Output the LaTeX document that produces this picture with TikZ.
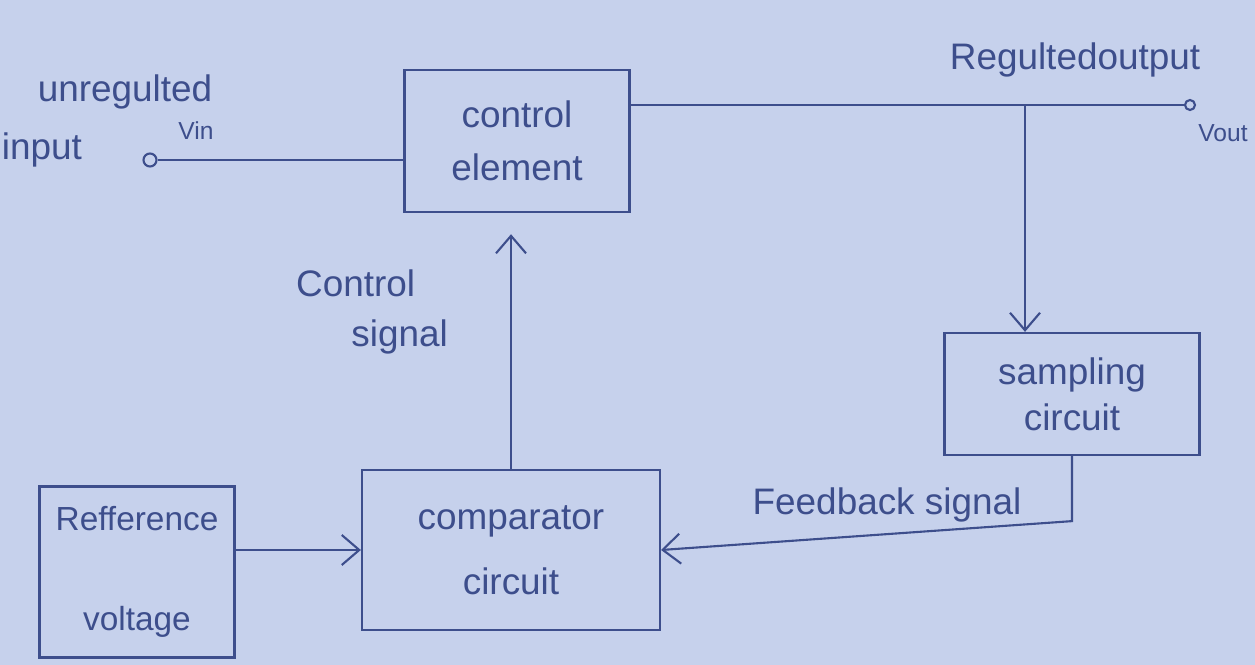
\documentclass[tikz,border=0pt]{standalone}
\usepackage{fontspec}
\setmainfont{Liberation Sans}
\usetikzlibrary{positioning,arrows.meta,calc}
\definecolor{ink}{HTML}{3D4E8C}
\definecolor{paper}{HTML}{C6D1EC}
\tikzset{
  >={Straight Barb[length=3.5mm,width=6mm]},
  block/.style={draw=ink, line width=1.3pt, align=center, text=ink, inner sep=0pt,
                font=\fontsize{21}{30}\selectfont},
  term/.style={draw=ink, line width=1.2pt, circle, inner sep=0pt, minimum size=2.6mm},
  sig/.style={text=ink, inner sep=0pt, font=\fontsize{21}{28}\selectfont},
  sml/.style={text=ink, inner sep=0pt, font=\fontsize{14}{16}\selectfont},
  l/.style={draw=ink, line width=1.2pt},
}

\begin{document}
\begin{tikzpicture}[x=0.02cm,y=-0.02cm]
  \fill[paper] (0,0) rectangle (1255,665);
  \useasboundingbox (0,0) rectangle (1255,665);
  % blocks
  \node[block,minimum width=4.5cm,minimum height=2.84cm](ctrl) at (517,141){control\\element};
  \node[block,minimum width=5.1cm,minimum height=2.44cm](samp) at (1072,394){sampling\\[-4pt]circuit};
  \node[block,minimum width=5.96cm,minimum height=3.2cm](comp) at (511,550){comparator\\[7pt]circuit};
  \node[block,minimum width=3.9cm,minimum height=3.42cm,font=\fontsize{19}{28}\selectfont](ref) at (137,572){Refference\\[29pt]voltage};
  % terminals
  \node[term](vin) at (150,160){};
  \node[term,minimum size=2mm](vout) at (1190,105){};
  \coordinate (jn) at (1025,105);
  % labels
  \node[sig](unreg) at (125,92){unregulted};
  \node[sig](inp) at (42,150){input};
  \node[sml](vinl) at (196,131){Vin};
  \node[sig](outl) at (1075,60){Regultedoutput};
  \node[sml](voutl) at (1223,133){Vout};
  \node[sig,align=left](ctl) at (372,312){Control\\\hspace*{1.5em}signal};
  \node[sig](fbl) at (887,505){Feedback signal};
  % connectors
  \draw[l](vin)--(vin -| ctrl.west);
  \draw[l](ctrl.east |- vout)--(vout);
  \draw[l,->](jn)--(jn |- samp.north);
  \draw[l,->,shorten >=12pt](comp.north)--(comp.north |- ctrl.south);
  \draw[l,->](comp.west -| ref.east)--(comp.west);
  \draw[l,->](samp.south)--++(0,65) coordinate(fb)--(comp.east);
\end{tikzpicture}
\end{document}
